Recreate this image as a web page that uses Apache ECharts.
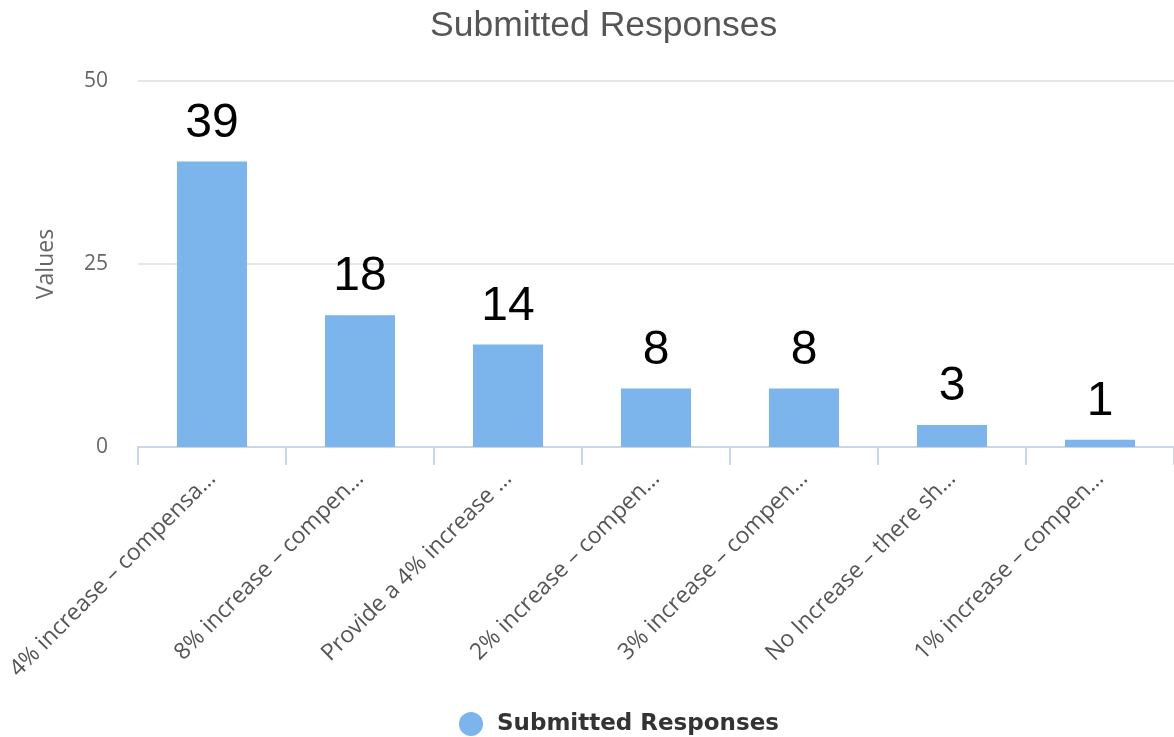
<!DOCTYPE html>
<html>
<head>
<meta charset="utf-8">
<script src="https://cdn.jsdelivr.net/npm/echarts@6/dist/echarts.min.js"></script>
<style>
  html, body { margin: 0; padding: 0; background: #fff; }
  #chart { width: 1174px; height: 737px; }
</style>
</head>
<body>
<div id="chart"></div>
<script>
const categories = [
  "4% increase – compensa…",
  "8% increase – compen…",
  "Provide a 4% increase …",
  "2% increase – compen…",
  "3% increase – compen…",
  "No Increase – there sh…",
  "1% increase – compen…"
];
const responses = [39, 18, 14, 8, 8, 3, 1];
const yTicks = [0, 25, 50];

const chart = echarts.init(document.getElementById("chart"));

chart.setOption({
  animation: false,
  textStyle: { fontFamily: "Open Sans" },
  title: {
    text: "Submitted Responses",
    left: 425,
    top: 3,
    textStyle: { fontSize: 35.5, fontWeight: "normal", color: "#555555", fontFamily: "Liberation Sans" }
  },
  legend: {
    bottom: -4,
    left: 454,
    icon: "circle",
    itemWidth: 24,
    itemHeight: 24,
    textStyle: {
      fontSize: 23,
      fontWeight: "bold",
      color: "#333333",
      fontFamily: "DejaVu Sans",
      padding: [0, 0, 0, 9]
    }
  },
  grid: { left: 138, top: 81, width: 1040, height: 366, containLabel: false },
  xAxis: {
    type: "category",
    data: categories,
    axisLine: { lineStyle: { color: "#ccd6eb", width: 2 } },
    axisTick: { show: true, length: 18, lineStyle: { color: "#ccd6eb", width: 2 } },
    axisLabel: {
      rotate: 45,
      fontSize: 23,
      color: "#555555",
      margin: 28,
      interval: 0
    }
  },
  yAxis: {
    type: "value",
    min: yTicks[0],
    max: yTicks[yTicks.length - 1],
    interval: yTicks[1] - yTicks[0],
    name: "Values",
    nameLocation: "middle",
    nameGap: 80,
    nameTextStyle: { fontSize: 23, color: "#666666" },
    axisLabel: { fontSize: 21, color: "#666666", margin: 30 },
    splitLine: { lineStyle: { color: "#e6e6e6", width: 2 } },
    axisLine: { show: false },
    axisTick: { show: false }
  },
  series: [{
    name: "Submitted Responses",
    type: "bar",
    data: responses,
    barWidth: 70,
    itemStyle: { color: "#7cb5ec" },
    label: {
      show: true,
      position: "top",
      distance: 14,
      fontSize: 48,
      color: "#000000",
      fontFamily: "Liberation Sans"
    }
  }]
});
</script>
</body>
</html>
